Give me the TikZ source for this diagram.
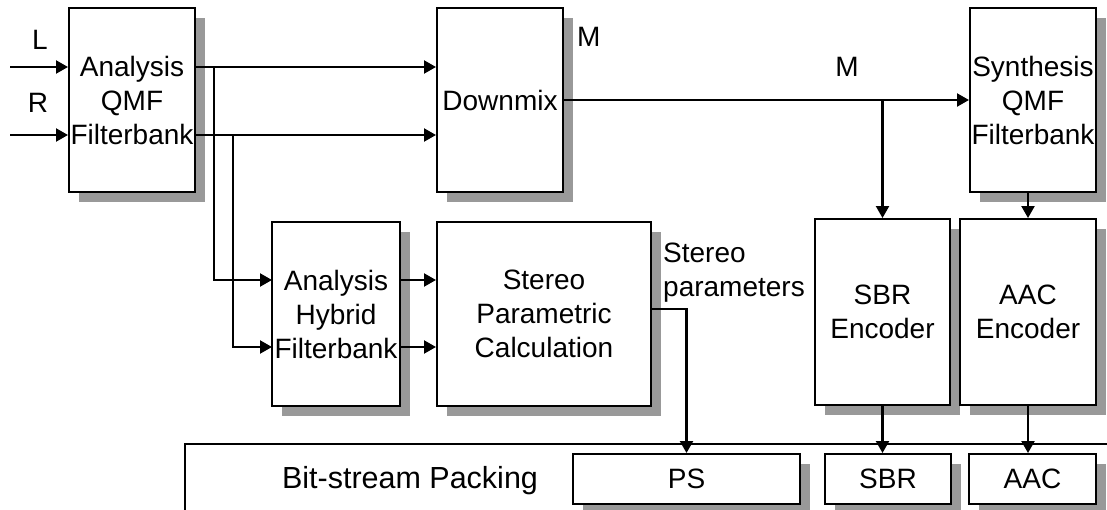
\documentclass[tikz,border=0pt]{standalone}
\usepackage{fontspec}
\setmainfont{Liberation Sans}
\usepackage{tikz}
\usetikzlibrary{arrows.meta,calc,shadows}
\tikzset{
  blk/.style={draw, line width=2pt, fill=white, align=center, inner sep=0pt,
    drop shadow={shadow xshift=10pt, shadow yshift=-10pt, fill=black!40, opacity=1}},
  sig/.style={line width=2.2pt, -{Triangle[length=12pt,width=13pt]}},
  wire/.style={line width=2.2pt},
}

\begin{document}
\begin{tikzpicture}[x=1pt, y=-1pt, font=\fontsize{28}{34}\selectfont]
\clip (0,0) rectangle (1107,509);
% top row
\node[blk, minimum width=126pt, minimum height=184pt] (qmfa) at (132,100) {Analysis\\QMF\\Filterbank};
\node[blk, minimum width=126pt, minimum height=184pt] (dmx) at (500,100) {Downmix};
\node[blk, minimum width=126pt, minimum height=184pt] (qmfs) at (1033,100) {Synthesis\\QMF\\Filterbank};
% middle row
\node[blk, minimum width=128pt, minimum height=184pt] (hyb) at (336,314) {Analysis\\Hybrid\\Filterbank};
\node[blk, minimum width=214pt, minimum height=184pt] (spc) at (544,314) {Stereo\\Parametric\\Calculation};
\node[blk, minimum width=135pt, minimum height=186pt] (sbrenc) at (882.5,312) {SBR\\Encoder};
\node[blk, minimum width=136pt, minimum height=186pt] (aacenc) at (1028,312) {AAC\\Encoder};
% bit-stream packing
\draw[wire] (185,530) |- (1130,444);
\node[font=\fontsize{30.5}{36}\selectfont] (bsp) at (410,481) {Bit-stream Packing};
\node[blk, minimum width=227pt, minimum height=50pt] (ps) at (686.5,479) {PS};
\node[blk, minimum width=126pt, minimum height=50pt] (sbr) at (888,479) {SBR};
\node[blk, minimum width=127pt, minimum height=50pt] (aac) at (1032.5,479) {AAC};
% labels
\node (llbl) at (40,40) {L};
\node (rlbl) at (38,103) {R};
\node[anchor=west, inner sep=0pt] (m1) at (577,37) {M};
\node (m2) at (847,67) {M};
\node[align=left, anchor=north west, inner sep=0pt] (spl) at (663,243) {Stereo\\parameters};
% connectors
\coordinate (lin) at (10,67);
\coordinate (rin) at (10,135);
\coordinate (tap1) at (214,67);
\coordinate (tap2) at (233,135);
\coordinate (hin1) at (272,280);
\coordinate (hin2) at (272,347);
\coordinate (spout) at (651,309);
\draw[sig] (lin) -- (lin -| qmfa.west);
\draw[sig] (rin) -- (rin -| qmfa.west);
\draw[sig] (lin -| qmfa.east) -- (lin -| dmx.west);
\draw[sig] (rin -| qmfa.east) -- (rin -| dmx.west);
\draw[sig] (tap1) |- (hin1);
\draw[sig] (tap2) |- (hin2);
\draw[sig] (hin1 -| hyb.east) -- (hin1 -| spc.west);
\draw[sig] (hin2 -| hyb.east) -- (hin2 -| spc.west);
\coordinate (mtap) at (dmx.east -| sbrenc.north);
\draw[sig] (dmx.east) -- (dmx.east -| qmfs.west);
\draw[sig] (mtap) -- (sbrenc.north);
\draw[sig] (qmfs.south -| aacenc.north) -- (aacenc.north);
\draw[sig] (spout) -| (ps.north);
\draw[sig] (sbrenc.south) -- (sbrenc.south |- sbr.north);
\draw[sig] (aacenc.south) -- (aacenc.south |- aac.north);
\end{tikzpicture}
\end{document}
